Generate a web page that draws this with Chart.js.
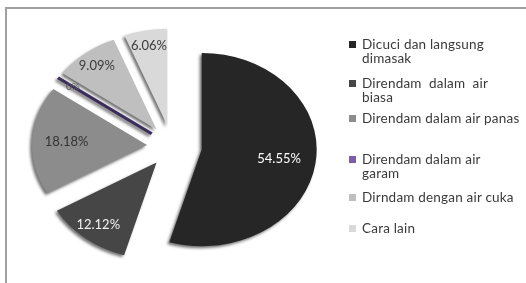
<!DOCTYPE html>
<html>
<head>
<meta charset="utf-8">
<script src="https://cdn.jsdelivr.net/npm/chart.js@4.4.1/dist/chart.umd.min.js"></script>
<style>
  html, body { margin: 0; padding: 0; background: #fff; }
  #wrap { position: relative; width: 526px; height: 283px; overflow: hidden; }
  #frame { position: absolute; left: 5px; top: 7px; width: 600px; height: 400px;
           border-top: 2px solid #a0a0a0; border-left: 2px solid #a0a0a0; }
  #pie { position: absolute; left: 0; top: 0; }
  #legend { position: absolute; left: 0; top: 0; font-family: Lato, sans-serif; font-size: 13.5px;
            letter-spacing: 0.2px; color: #3a3a3a; }
  .item { position: absolute; left: 349px; line-height: 14px; white-space: pre; }
  .box { position: absolute; left: 0; top: 4px; width: 7px; height: 7px; }
  .txt { margin-left: 13px; }
</style>
</head>
<body>
<div id="wrap">
  <div id="frame"></div>
  <canvas id="pie" width="526" height="283"></canvas>
  <div id="legend"></div>
</div>
<script>
// Categories (legend lines as shown)
const categories = [
    ['Dicuci dan langsung', 'dimasak'],
    ['Direndam  dalam  air', 'biasa'],
    ['Direndam dalam air panas'],
    ['Direndam dalam air', 'garam'],
    ['Dirndam dengan air cuka'],
    ['Cara lain']
];

// Percent values per category
const percentages = [54.55, 12.12, 18.18, 0, 9.09, 6.06];

// Styling
const sliceColors = ['#262626', '#464646', '#8c8c8c', '#7b5fa6', '#bfbfbf', '#d9d9d9'];
const zeroLineColor = '#3d2f5c';
const labelColors = ['#fff', '#f2f2f2', '#333', '#555', '#3a3a3a', '#3a3a3a'];
const labelRadius = [0.68, 0.82, 0.70, 0.84, 0.84, 0.84];
const explode = [30, 25, 25, 25, 25, 25];
const legendTop = [37, 76, 111, 152, 190, 221];
const TILT = 0.84;

function fmtPct(v) {
    return v === 0 ? '0%' : v.toFixed(2) + '%';
}

// draws each slice pulled out from the center, squashed for the 3D look
const explodePlugin = {
    id: 'explode',
    beforeDatasetDraw(chart, args) {
        const ctx = chart.ctx;
        args.meta.data.forEach((arc, i) => {
            const mid = (arc.startAngle + arc.endAngle) / 2;
            ctx.save();
            ctx.translate(arc.x, arc.y);
            ctx.scale(1, TILT);
            ctx.translate(-arc.x, -arc.y);
            ctx.translate(Math.cos(mid) * explode[i], Math.sin(mid) * explode[i]);
            ctx.shadowColor = 'rgba(0, 0, 0, 0.55)';
            ctx.shadowBlur = 3;
            ctx.shadowOffsetX = -2;
            ctx.shadowOffsetY = 2;
            if (arc.circumference === 0) {
                ctx.strokeStyle = zeroLineColor;
                ctx.lineWidth = 3.5;
                ctx.beginPath();
                ctx.moveTo(arc.x, arc.y);
                ctx.lineTo(arc.x + Math.cos(mid) * arc.outerRadius, arc.y + Math.sin(mid) * arc.outerRadius);
                ctx.stroke();
            } else {
                arc.draw(ctx);
            }
            ctx.restore();
        });
        return false;
    }
};

const labelPlugin = {
    id: 'sliceLabels',
    afterDatasetsDraw(chart) {
        const ctx = chart.ctx;
        const meta = chart.getDatasetMeta(0);
        ctx.save();
        ctx.textAlign = 'center';
        ctx.textBaseline = 'middle';
        meta.data.forEach((arc, i) => {
            const mid = (arc.startAngle + arc.endAngle) / 2;
            const d = arc.outerRadius * labelRadius[i] + explode[i];
            const x = arc.x + Math.cos(mid) * d;
            const y = arc.y + Math.sin(mid) * d * TILT;
            ctx.font = (percentages[i] === 0 ? '10px' : '13px') + ' Lato, sans-serif';
            ctx.fillStyle = labelColors[i];
            ctx.fillText(fmtPct(percentages[i]), x, y);
        });
        ctx.restore();
    }
};

new Chart(document.getElementById('pie'), {
    type: 'pie',
    data: {
        labels: categories.map(l => l.join(' ')),
        datasets: [{
            data: percentages,
            backgroundColor: sliceColors,
            borderWidth: 0,
            radius: 115
        }]
    },
    options: {
        responsive: false,
        animation: false,
        layout: { padding: { left: 0, right: 182, top: 9, bottom: 0 } },
        plugins: {
            legend: { display: false },
            tooltip: { enabled: false }
        }
    },
    plugins: [explodePlugin, labelPlugin]
});

// legend on the right
const legend = document.getElementById('legend');
categories.forEach((lines, i) => {
    const item = document.createElement('div');
    item.className = 'item';
    item.style.top = legendTop[i] + 'px';
    const box = document.createElement('div');
    box.className = 'box';
    box.style.background = sliceColors[i];
    const txt = document.createElement('div');
    txt.className = 'txt';
    txt.textContent = lines.join('\n');
    item.appendChild(box);
    item.appendChild(txt);
    legend.appendChild(item);
});
</script>
</body>
</html>
